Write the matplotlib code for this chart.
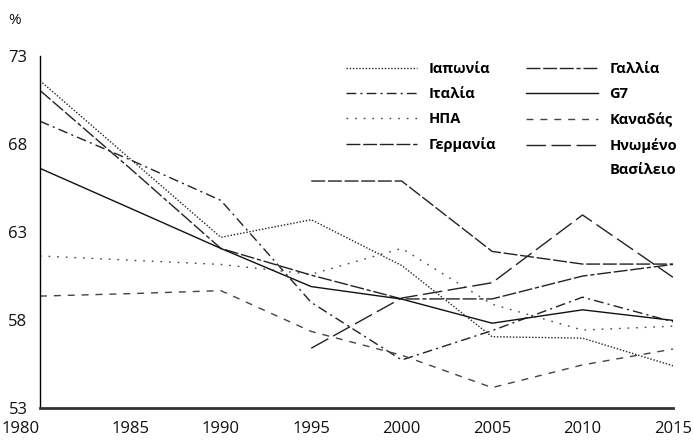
import numpy as np
import matplotlib
matplotlib.use('Agg')
import matplotlib.pyplot as plt

plt.rcParams['font.family'] = ['Open Sans', 'DejaVu Sans']

# years on the x axis
years = [1980, 1985, 1990, 1995, 2000, 2005, 2010, 2015]

# series values in % (None = no data)
japan = [71.6, 67.15, 62.7, 63.7, 61.1, 57.05, 56.97, 55.4]
italy = [69.3, 67.1, 64.8, 59.0, 55.73, 57.4, 59.3, 57.9]
usa = [61.64, 61.4, 61.16, 60.6, 62.07, 58.9, 57.43, 57.65]
germany = [None, None, None, 65.9, 65.9, 61.9, 61.18, 61.18]
france = [71.05, 66.6, 62.07, 60.55, 59.2, 59.2, 60.5, 61.16]
g7 = [66.62, 64.35, 62.07, 59.9, 59.19, 57.82, 58.58, 57.98]
canada = [59.36, 59.5, 59.67, 57.35, 56.0, 54.16, 55.45, 56.35]
uk = [None, None, None, 56.4, 59.25, 60.12, 63.97, 60.43]

yticks = [53, 58, 63, 68, 73]

fig = plt.figure(figsize=(6.93, 4.41), dpi=100)
ax = fig.add_axes([0.0577, 0.0748, 0.9134, 0.798])

def arr(v):
    return np.array([np.nan if x is None else x for x in v], dtype=float)

lw = 1.0
# left column of the legend
ax.plot(years, arr(japan), color='#222222', lw=lw, linestyle=(0, (1, 1.3)), label='Ιαπωνία')
ax.plot(years, arr(italy), color='#222222', lw=lw, linestyle=(0, (7, 3, 1.5, 3)), label='Ιταλία')
ax.plot(years, arr(usa), color='#444444', lw=lw, linestyle=(0, (1.2, 5)), label='ΗΠΑ')
ax.plot(years, arr(germany), color='#222222', lw=lw, linestyle=(0, (10, 2)), label='Γερμανία')
# right column
ax.plot(years, arr(france), color='#222222', lw=lw, linestyle=(0, (10, 2, 10, 2, 10, 2, 3, 2)), label='Γαλλία')
ax.plot(years, arr(g7), color='#111111', lw=lw, linestyle='-', label='G7')
ax.plot(years, arr(canada), color='#444444', lw=lw, linestyle=(0, (5, 5)), label='Καναδάς')
ax.plot(years, arr(uk), color='#222222', lw=lw, linestyle=(0, (14, 4)), label='Ηνωμένο')

ax.set_xlim(1980, 2015)
ax.set_ylim(53, 73)
ax.set_xticks(years)
ax.set_yticks(yticks)
ax.tick_params(axis='both', length=0, labelsize=12, colors='#111111')
ax.tick_params(axis='x', pad=9)
ax.tick_params(axis='y', pad=9)
ax.get_xticklabels()[0].set_horizontalalignment('right')

for s in ['top', 'right']:
    ax.spines[s].set_visible(False)
ax.spines['left'].set_linewidth(1.0)
ax.spines['bottom'].set_linewidth(2.0)
ax.spines['bottom'].set_color('#333333')

fig.text(0.012, 0.945, '%', fontsize=11, color='#111111')

leg = ax.legend(ncol=2, frameon=False, loc='upper left', bbox_to_anchor=(0.462, 1.021),
                handlelength=4.9, handletextpad=0.8, columnspacing=2.05,
                labelspacing=0.77, prop={'size': 10.5, 'weight': 'bold'})
ax.annotate('Βασίλειο', xy=(0, 0), xycoords=leg.get_texts()[7], xytext=(0, -7),
            textcoords='offset points', va='top', fontsize=10.5, fontweight='bold',
            zorder=10)

fig.savefig('out.png', dpi=100)
